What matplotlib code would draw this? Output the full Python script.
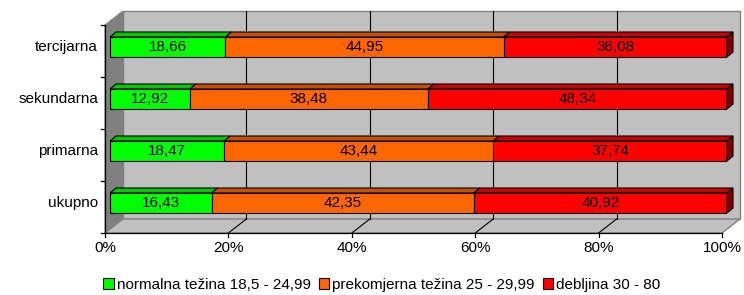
import matplotlib
matplotlib.use("Agg")
import matplotlib.pyplot as plt
from matplotlib.patches import Polygon, Patch
import numpy as np

plt.rcParams['font.family'] = ['Liberation Sans', 'DejaVu Sans']

# data (bottom to top)
categories = ["ukupno", "primarna", "sekundarna", "tercijarna"]
normalna = [16.43, 18.47, 12.92, 18.66]
prekomjerna = [42.35, 43.44, 38.48, 44.95]
debljina = [40.92, 37.74, 48.34, 36.08]
series_names = ["normalna težina 18,5 - 24,99", "prekomjerna težina 25 - 29,99", "debljina 30 - 80"]
x_ticks = [0, 20, 40, 60, 80, 100]

front_colors = ["#00FF00", "#FF6600", "#FF0000"]
top_colors = ["#00C800", "#C85000", "#C80000"]
side_color = "#800000"
fs = 11

W, H = 744, 295
fig = plt.figure(figsize=(W / 100, H / 100), dpi=100)
ax = fig.add_axes([110 / W, (H - 229) / H, 617 / W, 208 / H])
ax.set_xlim(0, 100)
ax.set_ylim(-0.5, 3.5)
ax.axis("off")

# pixel -> data units
ux = 100 / 617
uy = 1 / 52
fx, fy = -5 * ux, -4 * uy    # front plane offset
bx, by = 13 * ux, 10 * uy    # back plane offset
tx, ty = 6 * ux, 5 * uy      # bar depth
y0, y1 = -0.5, 3.5

# walls and floor
ax.add_patch(Polygon([(bx, y0 + by), (100 + bx, y0 + by), (100 + bx, y1 + by), (bx, y1 + by)],
                     closed=True, fc="#C0C0C0", ec="#808080", lw=1, clip_on=False, zorder=0))
ax.add_patch(Polygon([(fx, y0 + fy), (bx, y0 + by), (bx, y1 + by), (fx, y1 + fy)],
                     closed=True, fc="#808080", ec="#808080", lw=0.8, clip_on=False, zorder=0))
ax.add_patch(Polygon([(fx, y0 + fy), (100 + fx, y0 + fy), (100 + bx, y0 + by), (bx, y0 + by)],
                     closed=True, fc="#C0C0C0", ec="#808080", lw=1, clip_on=False, zorder=0))
for g in x_ticks[1:-1]:
    ax.plot([g + bx, g + bx], [y0 + by, y1 + by], color="black", lw=0.8, clip_on=False, zorder=1)
    ax.plot([g + fx, g + bx], [y0 + fy, y0 + by], color="black", lw=0.8, clip_on=False, zorder=1)

# axis lines and ticks
ax.plot([fx, 100 + fx], [y0 + fy, y0 + fy], color="black", lw=0.9, clip_on=False, zorder=2)
ax.plot([fx, fx], [y0 + fy, y1 + fy], color="black", lw=0.9, clip_on=False, zorder=2)
for g in x_ticks:
    ax.plot([g + fx, g + fx], [y0 + fy, y0 + fy - 4 * uy], color="black", lw=0.9, clip_on=False)
    ax.text(g + fx, y0 + fy - 15 * uy, f"{g}%", ha="center", va="center", fontsize=fs)
for b in np.arange(y0, y1 + 0.01, 1.0):
    ax.plot([fx, fx - 4 * ux], [b + fy, b + fy], color="black", lw=0.9, clip_on=False)

# bars
ypos = np.arange(len(categories))
raw = np.array([normalna, prekomjerna, debljina])
pct = raw / raw.sum(axis=0) * 100
bh = 20 / 52
lefts = np.zeros(len(categories))
for i in range(3):
    ax.barh(ypos, pct[i], left=lefts, height=bh, color=front_colors[i],
            edgecolor="black", lw=0.8, zorder=3)
    for j, y in enumerate(ypos):
        l, r = lefts[j], lefts[j] + pct[i][j]
        yt = y + bh / 2
        ax.add_patch(Polygon([(l, yt), (r, yt), (r + tx, yt + ty), (l + tx, yt + ty)],
                             closed=True, fc=top_colors[i], ec="black", lw=0.8,
                             clip_on=False, zorder=3))
        ax.text((l + r) / 2, y, f"{raw[i][j]:.2f}".replace(".", ","),
                ha="center", va="center", fontsize=fs, zorder=4)
    lefts += pct[i]

for y in ypos:
    yb, yt = y - bh / 2, y + bh / 2
    ax.add_patch(Polygon([(100, yb), (100, yt), (100 + tx, yt + ty), (100 + tx, yb + ty)],
                         closed=True, fc=side_color, ec="black", lw=0.8, clip_on=False, zorder=3))

for y, c in zip(ypos, categories):
    ax.text(fx - 7 * ux, y, c, ha="right", va="center", fontsize=fs)

handles = [Patch(facecolor=c, edgecolor="black", lw=0.8) for c in front_colors]
fig.legend(handles, series_names, loc="center", bbox_to_anchor=(382 / W, 10 / H), ncol=3,
           frameon=False, fontsize=fs, handlelength=0.7, handleheight=0.7,
           handletextpad=0.2, columnspacing=0.5, borderpad=0)

fig.savefig("out.png", dpi=100)
